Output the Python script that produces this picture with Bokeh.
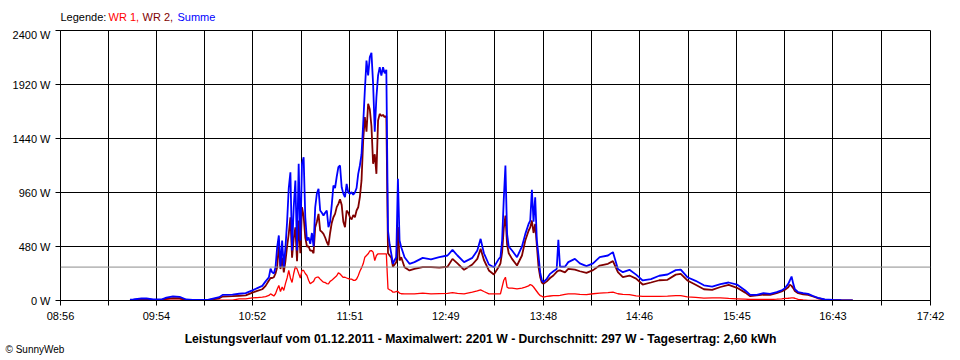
from bokeh.plotting import figure
from bokeh.layouts import column
from bokeh.models import Range1d, FixedTicker, PrintfTickFormatter, Span, Label
from bokeh.embed import file_html
from bokeh.resources import INLINE

# ---------------- data ----------------
times = [
    "09:38", "09:40", "09:45", "09:48", "09:52", "09:57", "10:00", "10:04", "10:08", "10:12",
    "10:16", "10:25", "10:32", "10:34", "10:40", "10:44", "10:48", "10:52", "10:55", "10:58",
    "11:00", "11:02", "11:03", "11:04", "11:05", "11:06", "11:07", "11:08", "11:09", "11:10",
    "11:11", "11:12", "11:13", "11:14", "11:15", "11:16", "11:17", "11:18", "11:19", "11:20",
    "11:21", "11:22", "11:23", "11:24", "11:25", "11:26", "11:27", "11:28", "11:29", "11:30",
    "11:31", "11:32", "11:33", "11:34", "11:35", "11:36", "11:37", "11:38", "11:39", "11:40",
    "11:41", "11:42", "11:43", "11:44", "11:45", "11:46", "11:47", "11:48", "11:49", "11:50",
    "11:51", "11:52", "11:53", "11:54", "11:55", "11:56", "11:57", "11:58", "11:59", "12:00",
    "12:01", "12:02", "12:03", "12:04", "12:05", "12:06", "12:07", "12:08", "12:09", "12:10",
    "12:11", "12:12", "12:13", "12:14", "12:15", "12:16", "12:17", "12:18", "12:19", "12:20",
    "12:21", "12:22", "12:24", "12:27", "12:30", "12:35", "12:40", "12:45", "12:50", "12:53",
    "12:56", "13:00", "13:05", "13:08", "13:10", "13:12", "13:15", "13:18", "13:21", "13:22",
    "13:23", "13:24", "13:25", "13:26", "13:27", "13:29", "13:32", "13:35", "13:37", "13:39",
    "13:40", "13:41", "13:42", "13:43", "13:44", "13:45", "13:46", "13:47", "13:48", "13:50",
    "13:52", "13:54", "13:56", "13:57", "13:58", "14:01", "14:03", "14:07", "14:10", "14:14",
    "14:18", "14:22", "14:27", "14:30", "14:33", "14:36", "14:40", "14:44", "14:48", "14:53",
    "14:58", "15:03", "15:08", "15:11", "15:15", "15:20", "15:25", "15:30", "15:35", "15:40",
    "15:45", "15:50", "15:53", "15:57", "16:01", "16:05", "16:09", "16:12", "16:14", "16:16",
    "16:17", "16:18", "16:19", "16:20", "16:22", "16:25", "16:28", "16:31", "16:34", "16:38",
    "16:43", "16:48", "16:55",
]

summe = [
    8, 9, 18, 18, 9, 9, 25, 36, 33, 9,
    6, 6, 30, 50, 52, 60, 65, 90, 110, 130,
    170, 207, 284, 250, 240, 296, 474, 578, 296, 533,
    296, 470, 700, 1000, 1140, 444, 829, 1067, 444, 1215,
    533, 1215, 1274, 740, 533, 560, 504, 600, 480, 829,
    950, 993, 800, 780, 755, 780, 800, 652, 700, 850,
    1022, 1000, 1100, 1185, 1200, 1007, 950, 918, 1037, 960,
    948, 963, 940, 960, 1000, 1126, 1200, 1300, 1570, 1867,
    2133, 2000, 2163, 2201, 1926, 1500, 1807, 2000, 2074, 2000,
    2074, 2020, 2050, 622, 500, 415, 326, 360, 385, 1081,
    533, 474, 385, 326, 341, 379, 365, 385, 400, 450,
    400, 341, 379, 444, 548, 420, 320, 296, 370, 385,
    533, 900, 1200, 593, 480, 444, 385, 480, 590, 680,
    711, 984, 700, 918, 533, 400, 250, 180, 163, 193,
    237, 260, 280, 539, 300, 300, 341, 370, 330, 305,
    330, 385, 400, 430, 281, 252, 273, 230, 178, 190,
    220, 231, 270, 275, 207, 175, 135, 124, 145, 160,
    142, 89, 50, 50, 65, 59, 74, 90, 110, 148,
    180, 213, 150, 100, 74, 65, 59, 40, 24, 10,
    6, 4, 2,
]

wr2 = [
    5, 6, 12, 12, 6, 6, 16, 22, 20, 6,
    4, 4, 20, 35, 38, 42, 45, 70, 85, 100,
    130, 178, 200, 200, 207, 240, 296, 504, 280, 380,
    250, 350, 480, 593, 740, 380, 550, 650, 350, 711,
    420, 829, 750, 560, 480, 480, 444, 444, 420, 652,
    700, 770, 622, 610, 593, 560, 520, 489, 600, 690,
    740, 770, 830, 859, 900, 850, 700, 652, 800, 780,
    740, 720, 760, 740, 800, 829, 918, 1067, 1422, 1630,
    1500, 1748, 1700, 1550, 1215, 1300, 1126, 1600, 1659, 1640,
    1650, 1630, 1640, 420, 400, 380, 300, 320, 340, 652,
    355, 385, 296, 267, 281, 296, 296, 293, 300, 370,
    330, 273, 320, 370, 459, 360, 267, 231, 300, 330,
    430, 640, 755, 500, 420, 370, 311, 400, 533, 620,
    650, 711, 600, 680, 489, 300, 210, 160, 148, 170,
    200, 222, 255, 265, 267, 250, 281, 275, 260, 245,
    270, 311, 326, 350, 252, 207, 222, 195, 142, 160,
    180, 184, 230, 237, 178, 140, 100, 95, 120, 139,
    113, 70, 38, 45, 53, 50, 65, 80, 95, 118,
    140, 130, 110, 85, 65, 55, 50, 36, 20, 8,
    5, 3, 1,
]

wr1 = [
    2, 3, 5, 5, 3, 3, 10, 16, 14, 3,
    2, 2, 3, 3, 4, 15, 15, 24, 25, 30,
    35, 45, 59, 50, 40, 60, 100, 133, 80, 120,
    90, 150, 200, 267, 200, 160, 240, 300, 281, 240,
    200, 267, 267, 240, 222, 180, 148, 160, 170, 200,
    207, 207, 190, 175, 163, 160, 150, 148, 170, 180,
    193, 207, 220, 245, 237, 220, 205, 207, 200, 195,
    190, 190, 180, 178, 190, 220, 260, 290, 326, 385,
    400, 415, 440, 444, 430, 355, 400, 415, 415, 415,
    415, 415, 415, 104, 95, 89, 74, 74, 80, 80,
    65, 60, 59, 59, 59, 65, 59, 62, 63, 70,
    63, 59, 74, 85, 95, 80, 59, 59, 59, 60,
    120, 180, 207, 118, 110, 110, 104, 110, 118, 130,
    142, 135, 120, 100, 80, 60, 44, 38, 30, 36,
    40, 44, 44, 44, 46, 55, 59, 59, 55, 53,
    60, 65, 70, 74, 60, 55, 53, 42, 36, 36,
    36, 38, 44, 44, 32, 28, 21, 24, 24, 18,
    15, 12, 9, 9, 9, 9, 12, 15, 18, 20,
    22, 24, 24, 20, 10, 5, 2, 0, 0, 0,
    0, 0, 0,
]

x_tick_labels = ["08:56", "09:54", "10:52", "11:51", "12:49",
                 "13:48", "14:46", "15:45", "16:43", "17:42"]
y_ticks = [0, 480, 960, 1440, 1920, 2400]
average_w = 297
legend_parts = ["Legende: ", "WR 1, ", "WR 2, ", "Summe"]
legend_colors = ["black", "#ff0000", "#800000", "#0000ff"]
caption = ("Leistungsverlauf vom 01.12.2011 - Maximalwert: 2201 W - "
           "Durchschnitt: 297 W - Tagesertrag: 2,60 kWh")
copyright_text = "\u00a9 SunnyWeb"

assert len(times) == len(summe) == len(wr2) == len(wr1)


def to_min(s):
    h, m = s.split(":")
    return int(h) * 60 + int(m)


xs = [to_min(t) for t in times]
major = [to_min(t) for t in x_tick_labels]
mids = [(a + b) / 2 for a, b in zip(major[:-1], major[1:])]

FONT = "Liberation Sans"
PAGE_W = 960
TOP_H, BOT_H = 28, 36


def text_strip(height):
    f = figure(width=PAGE_W, height=height, x_range=Range1d(0, PAGE_W),
               y_range=Range1d(0, height), output_backend="svg",
               toolbar_location=None, x_axis_type=None, y_axis_type=None,
               min_border=0, min_border_left=0, min_border_right=0,
               min_border_top=0, min_border_bottom=0, frame_align=False,
               background_fill_color="white", border_fill_color="white")
    f.outline_line_color = None
    f.xgrid.visible = False
    f.ygrid.visible = False
    return f


# ---- legend strip (top) ----
top = text_strip(TOP_H)
legend_x = [60, 108, 142, 177]
for txt, col, lx in zip(legend_parts, legend_colors, legend_x):
    top.add_layout(Label(x=lx, y=TOP_H - 16, text=txt, text_color=col,
                         text_font=FONT, text_font_size="11px",
                         text_baseline="middle", text_align="left"))

# ---- main chart ----
p = figure(frame_width=870, frame_height=270,
           x_range=Range1d(major[0], major[-1]),
           y_range=Range1d(y_ticks[0], y_ticks[-1]),
           output_backend="svg", toolbar_location=None,
           min_border_left=60, min_border_right=30,
           min_border_top=2, min_border_bottom=24,
           background_fill_color="white", border_fill_color="white")
p.outline_line_color = "black"
p.outline_line_width = 1

p.xaxis.ticker = FixedTicker(ticks=major, minor_ticks=mids)
p.xaxis.major_label_overrides = {m: lab for m, lab in zip(major, x_tick_labels)}
p.xaxis.major_tick_in = 0
p.xaxis.major_tick_out = 5
p.xaxis.minor_tick_in = 0
p.xaxis.minor_tick_out = 5
p.xaxis.minor_tick_line_color = "black"
p.xaxis.major_label_standoff = 4
p.xgrid.grid_line_color = "black"
p.xgrid.minor_grid_line_color = "black"

p.yaxis.ticker = FixedTicker(ticks=y_ticks, minor_ticks=[])
p.yaxis.formatter = PrintfTickFormatter(format="%d W")
p.yaxis.major_tick_in = 0
p.yaxis.major_tick_out = 5
p.yaxis.minor_tick_line_color = None
p.yaxis.major_label_standoff = 5
p.ygrid.grid_line_color = "black"

for ax in (p.xaxis, p.yaxis):
    ax.axis_line_color = "black"
    ax.major_tick_line_color = "black"
    ax.major_label_text_font = FONT
    ax.major_label_text_font_size = "11px"
    ax.major_label_text_color = "black"

p.add_layout(Span(location=average_w, dimension="width",
                  line_color="#8c8c8c", line_width=1))

p.line(xs, wr1, line_color="#ff0000", line_width=1.3)
p.line(xs, wr2, line_color="#800000", line_width=1.8)
p.line(xs, summe, line_color="#0000ff", line_width=1.8)

# ---- caption strip (bottom) ----
bot = text_strip(BOT_H)
bot.add_layout(Label(x=PAGE_W / 2, y=BOT_H - 14, text=caption,
                     text_color="black", text_font=FONT, text_font_size="12.2px",
                     text_font_style="bold", text_baseline="middle",
                     text_align="center"))
bot.add_layout(Label(x=5, y=BOT_H - 25, text=copyright_text,
                     text_color="black", text_font=FONT, text_font_size="10px",
                     text_baseline="middle", text_align="left"))

layout = column(top, p, bot, spacing=0)
open("out.html", "w").write(file_html(layout, INLINE))
